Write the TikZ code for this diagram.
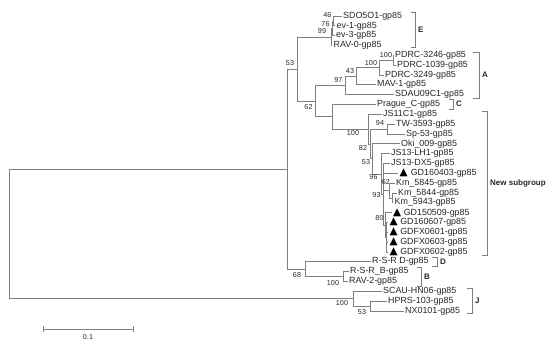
\documentclass[tikz,border=0pt]{standalone}
\usepackage{fontspec}
\setmainfont{Liberation Sans}
\newfontfamily\symfont{DejaVu Sans}
\definecolor{branch}{HTML}{808080}
\definecolor{taxon}{HTML}{262626}
\newcommand{\tri}{{\symfont\fontsize{10.5}{10}\selectfont\color{black}▲}}
\newcommand{\leaffont}{\fontsize{8.9}{10}\selectfont}
\newcommand{\bsfont}{\fontsize{7.2}{8}\selectfont}
\newcommand{\cladefont}{\fontsize{8}{9}\selectfont\bfseries}

\begin{document}
\begin{tikzpicture}[x=1pt,y=-1pt,
  br/.style={draw=branch,line width=0.8pt},
  leaf/.style={anchor=west,inner xsep=1.5pt,inner ysep=0pt,font=\leaffont,text=taxon},
  bs/.style={font=\bsfont,text=taxon,inner sep=0pt},
  clade/.style={font=\cladefont,text=taxon,anchor=west,inner sep=0pt}]
\useasboundingbox (0,0) rectangle (550,343);

%% taxa, one row each
\foreach \nm/\xe/\txt [count=\i from 0] in {
  sdo/341.5/SDO5O1-gp85, ev1/335/ev-1-gp85, ev3/334.5/ev-3-gp85, rav0/332/RAV-0-gp85,
  pdrcA/393.5/PDRC-3246-gp85, pdrcB/395.5/PDRC-1039-gp85, pdrcC/383.5/PDRC-3249-gp85,
  mav/375.5/MAV-1-gp85, sdau/393.5/SDAU09C1-gp85, prague/375.5/Prague\_C-gp85,
  js11/381.5/JS11C1-gp85, tw/394.5/TW-3593-gp85, sp/404.5/Sp-53-gp85, oki/399.5/Oki\_009-gp85,
  lh1/389.5/JS13-LH1-gp85, dx5/389.5/JS13-DX5-gp85, gdA/398/\tri\hspace{3pt}GD160403-gp85,
  kmA/394.5/Km\_5845-gp85, kmB/396.5/Km\_5844-gp85, kmC/393/Km\_5943-gp85,
  gdB/391.5/\tri\hspace{2.5pt}GD150509-gp85, gdC/388/\tri\hspace{2.5pt}GD160607-gp85,
  gdD/388/\tri\hspace{2.5pt}GDFX0601-gp85, gdE/388/\tri\hspace{2.5pt}GDFX0603-gp85,
  gdF/388/\tri\hspace{2.5pt}GDFX0602-gp85,
  rsrd/370.5/R-S-R D-gp85, rsrb/348.5/R-S-R\_B-gp85, rav2/347.5/RAV-2-gp85,
  scau/381.5/SCAU-HN06-gp85, hprs/386.5/HPRS-103-gp85, nx/403.5/NX0101-gp85} {
  \node[leaf] (\nm) at (\xe,{16+9.83*\i}) {\txt};
}

%% internal nodes
\coordinate (root) at (9,233.8);
\coordinate (n1) at (287,169.1);
\coordinate (n2) at (297,69.0);
\coordinate (e99) at (331,36.9);
\coordinate (e76) at (332.5,28.3);
\coordinate (e46) at (333.5,20.9);
\coordinate (n3) at (315,101.1);
\coordinate (a97) at (345,85.4);
\coordinate (a43) at (356,76.2);
\coordinate (a100b) at (379,67.6);
\coordinate (a100a) at (393,60.2);
\coordinate (cy) at (332,116.8);
\coordinate (ns) at (368,129.1);
\coordinate (s94) at (387,129.0);
\coordinate (s82) at (370,144.0);
\coordinate (s53) at (372,158.8);
\coordinate (s96) at (381,173.9);
\coordinate (s93) at (383,194.2);
\coordinate (s62) at (389,190.5);
\coordinate (skm) at (392,197.9);
\coordinate (s80) at (385,224.9);
\coordinate (sgd) at (386,237.2);
\coordinate (d68) at (305,269.1);
\coordinate (b100) at (343,276.5);
\coordinate (j100) at (353,298.6);
\coordinate (j53) at (370,306.0);

%% branches
\foreach \p/\c in {root/n1, root/j100, n1/n2, n1/d68, n2/e99, n2/n3,
  e99/e76, e99/rav0, e76/e46, e76/ev3, e46/sdo, e46/ev1,
  n3/a97, n3/cy, a97/a43, a97/sdau, a43/a100b, a43/mav,
  a100b/a100a, a100b/pdrcC, a100a/pdrcA, a100a/pdrcB,
  cy/prague, cy/ns, ns/js11, ns/s82, s82/s94, s82/s53, s94/tw, s94/sp,
  s53/oki, s53/s96, s96/lh1, s96/s93, s93/dx5, s93/gdA, s93/s62, s93/s80,
  s62/kmA, s62/skm, skm/kmB, skm/kmC, s80/gdB, s80/sgd,
  sgd/gdC, sgd/gdD, sgd/gdE, sgd/gdF,
  d68/rsrd, d68/b100, b100/rsrb, b100/rav2,
  j100/scau, j100/j53, j53/hprs, j53/nx} {
  \draw[br] (\p) |- (\c);
}

%% bootstrap values
\foreach \nm/\x/\y/\v in {e46/327.5/15.5/46, e76/325.5/24/76, e99/322/31.5/99,
  a100a/386/55/100, a100b/371/63/100, a43/350/71/43, a97/338.5/80/97,
  n2/290/63/53, n3/308.5/107/62, ns/353/133/100, s94/380/123.5/94,
  s82/363/148/82, s53/366/162/53, s96/373.5/177/96, s62/386/182.5/62,
  s93/376.5/195/93, s80/379.5/218/80, d68/297/275/68, b100/333/283.5/100,
  j100/342/303/100, j53/362/312/53} {
  \node[bs] (bs\nm) at (\x,\y) {\v};
}

%% subgroup brackets
\foreach \nm/\xa/\xb/\ya/\yb/\lab in {E/411/415/12/47/E, A/473/479/52/98/A,
  C/449/453/99/109/C, N/482/487/111/255/New subgroup, D/432/437/257/266/D,
  B/417/421/267/286/B, J/467/472/288/313/J} {
  \draw[br] (\xa,\ya) -| (\xb,\yb) -- (\xa,\yb);
  \node[clade] (sub\nm) at ({\xb+3},{(\ya+\yb)/2}) {\lab};
}

%% scale bar
\coordinate (sbl) at (43,329);
\coordinate (sbr) at (133,329);
\draw[br] (sbl) -- (sbr);
\draw[br] (sbl) ++(0,-3) -- ++(0,6);
\draw[br] (sbr) ++(0,-3) -- ++(0,6);
\node[bs] (sbtxt) at (88,337) {0.1};
\end{tikzpicture}
\end{document}
